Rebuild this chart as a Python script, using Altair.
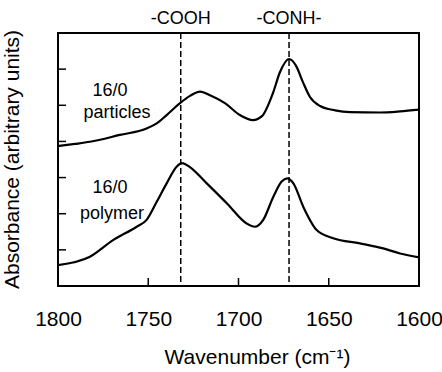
import altair as alt
import pandas as pd

# ---- data ----
particles_wn = [1800, 1790.6, 1782.3, 1765.7, 1750.9, 1745.3, 1739.8, 1732.4, 1726.9, 1721.3,
                1715.8, 1707.5, 1699.2, 1692.0, 1687.0, 1680.9, 1677.0, 1672.0, 1668.1, 1664.3,
                1660.4, 1654.8, 1646.5, 1638.2, 1621.6, 1610.5, 1600]
particles_abs = [3.87, 3.93, 3.99, 4.18, 4.36, 4.50, 4.73, 5.06, 5.26, 5.38,
                 5.28, 5.06, 4.73, 4.59, 4.70, 5.34, 5.92, 6.28, 6.09, 5.64,
                 5.23, 4.98, 4.86, 4.81, 4.80, 4.83, 4.88]

polymer_wn = [1800, 1782.3, 1769.5, 1756.4, 1750.9, 1745.3, 1739.8, 1734.3, 1731.5, 1728.7,
              1717.6, 1706.5, 1695.5, 1690.9, 1686.3, 1680.7, 1676.1, 1673.0, 1669.6, 1664.1,
              1656.7, 1647.5, 1632.7, 1619.8, 1610.5, 1600]
polymer_abs = [0.58, 0.81, 1.27, 1.64, 1.83, 2.33, 2.84, 3.30, 3.40, 3.35,
               2.84, 2.29, 1.73, 1.64, 1.83, 2.47, 2.89, 2.98, 2.84, 2.19,
               1.55, 1.32, 1.18, 1.04, 0.90, 0.79]

marker_wn = [1732, 1672]
marker_names = ["-COOH", "-CONH-"]

label_texts = ["16/0", "particles", "16/0", "polymer"]
label_wn = [1771.2, 1767.3, 1771.2, 1770.1]
label_abs = [5.40, 4.78, 2.71, 1.99]

x_ticks = [1800, 1750, 1700, 1650, 1600]
y_ticks = [1, 2, 3, 4, 5, 6]

FONT = "Liberation Sans"

lines_df = pd.concat([
    pd.DataFrame({"wn": particles_wn, "abs": particles_abs, "series": "particles"}),
    pd.DataFrame({"wn": polymer_wn, "abs": polymer_abs, "series": "polymer"}),
])
markers_df = pd.DataFrame({"wn": marker_wn, "name": marker_names, "abs": [7.39, 7.39]})
labels_df = pd.DataFrame({"wn": label_wn, "abs": label_abs, "text": label_texts})
xt_df = pd.DataFrame({"wn": x_ticks})
yt_df = pd.DataFrame({"abs": y_ticks})

xscale = alt.Scale(domain=[1600, 1800], reverse=True, nice=False, zero=False)
yscale = alt.Scale(domain=[0, 7], nice=False, zero=True)

x_enc = alt.X("wn:Q", scale=xscale,
              axis=alt.Axis(values=x_ticks, format="d", title="Wavenumber (cm⁻¹)",
                            grid=False, domain=False, ticks=False, tickSize=0,
                            labelFlush=False, labelOverlap=False,
                            labelFont=FONT, labelFontSize=21, labelColor="black",
                            labelPadding=33, labelBaseline="middle",
                            titleFont=FONT, titleFontSize=21, titleFontWeight="normal",
                            titleColor="black", titleX=199, titleY=71,
                            titleBaseline="middle"))
y_enc = alt.Y("abs:Q", scale=yscale,
              axis=alt.Axis(values=y_ticks, labels=False, ticks=False, tickSize=0,
                            grid=False, domain=False,
                            title="Absorbance (arbitrary units)",
                            titleFont=FONT, titleFontSize=21, titleFontWeight="normal",
                            titleColor="black", titleX=-46, titleY=126,
                            titleBaseline="middle"))

lines = alt.Chart(lines_df).mark_line(color="black", strokeWidth=2.2,
                                      interpolate="monotone").encode(
    x=x_enc, y=y_enc, detail="series:N")

dashes = alt.Chart(markers_df).mark_rule(color="black", strokeWidth=1.5,
                                         strokeDash=[6, 3]).encode(
    x=alt.X("wn:Q", scale=xscale))

marker_text = alt.Chart(markers_df).mark_text(font=FONT, fontSize=18, color="black",
                                              baseline="middle").encode(
    x=alt.X("wn:Q", scale=xscale), y=alt.Y("abs:Q", scale=yscale), text="name:N")

label_text = alt.Chart(labels_df).mark_text(font=FONT, fontSize=18, color="black",
                                            baseline="middle").encode(
    x=alt.X("wn:Q", scale=xscale), y=alt.Y("abs:Q", scale=yscale), text="text:N")

xticks = alt.Chart(xt_df).mark_rule(color="black", strokeWidth=1.5).encode(
    x=alt.X("wn:Q", scale=xscale), y=alt.value(253), y2=alt.value(245))

yticks = alt.Chart(yt_df).mark_rule(color="black", strokeWidth=1.5).encode(
    y=alt.Y("abs:Q", scale=yscale), x=alt.value(0), x2=alt.value(8))

chart = alt.layer(lines, dashes, marker_text, label_text, xticks, yticks).properties(
    width=361, height=253,
    autosize=alt.AutoSizeParams(type="none"),
    padding={"left": 58, "top": 33, "right": 23, "bottom": 86},
    background="white",
).configure_view(stroke="black", strokeWidth=2)

chart.save("out.html", embed_options={"renderer": "svg", "actions": False})
